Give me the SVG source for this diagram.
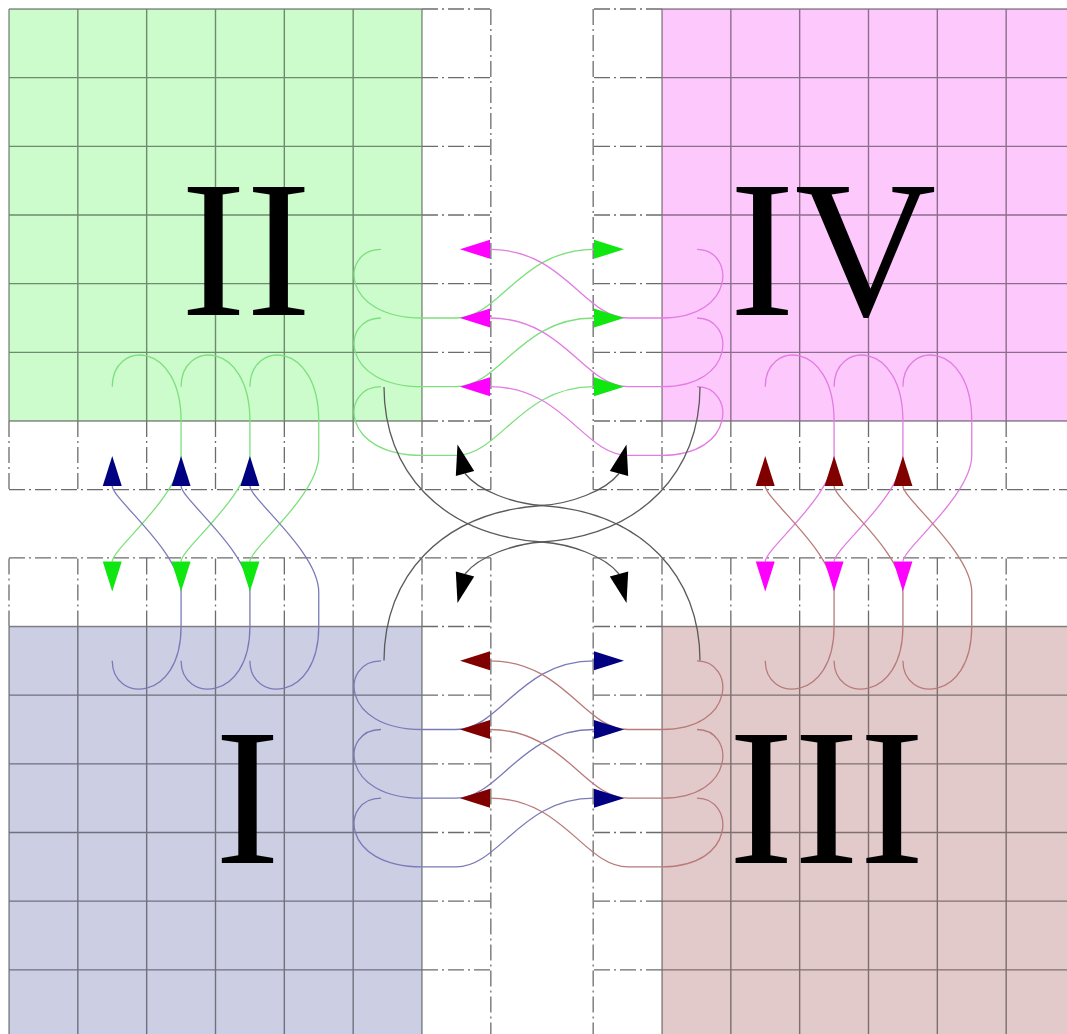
<svg xmlns="http://www.w3.org/2000/svg" width="1067" height="1034" viewBox="0 0 1067 1034">
<style>
.grid{fill:none;stroke:#000;stroke-opacity:.45;stroke-width:1.4}
.ghost{fill:none;stroke:#6c6c6c;stroke-width:1.3;stroke-dasharray:16 4 2 4}
.num{font-family:"Liberation Serif","Times New Roman",serif;font-size:196px;fill:#000;text-anchor:middle}
.c{fill:none;stroke-width:1.3}
.cg{stroke:#7ce07c}.cm{stroke:#e27ce2}.cn{stroke:#7a7ab8}.cr{stroke:#b87a7a}.ck{stroke:#5a5a5a}
</style>
<defs>
<g id="tmpl">
<path class="grid" d="M9,9V421M77.83,9V421M146.67,9V421M215.5,9V421M284.33,9V421M353.17,9V421M422,9V421M9,9H422M9,77.67H422M9,146.33H422M9,215H422M9,283.67H422M9,352.33H422M9,421H422"/>
<path class="ghost" d="M422,9H490.83M422,77.67H490.83M422,146.33H490.83M422,215H490.83M422,283.67H490.83M422,352.33H490.83M422,421H490.83M490.83,9V489.67M9,421V489.67M77.83,421V489.67M146.67,421V489.67M215.5,421V489.67M284.33,421V489.67M353.17,421V489.67M422,421V489.67M9,489.67H490.83"/>
</g>
<path id="ah" d="M0,-9.5L30,0L0,9.5Z"/>
</defs>
<rect width="1067" height="1034" fill="#fff"/>
<g id="quadrant-II">
<rect x="9" y="9" width="413" height="412" fill="#ccfbcc"/>
<use href="#tmpl"/>
<text class="num" x="246" y="315">II</text>
</g>
<g id="quadrant-IV">
<rect x="662" y="9" width="413" height="412" fill="#fdc9fd"/>
<use href="#tmpl" transform="matrix(-1 0 0 1 1084 0)"/>
<text class="num" x="833" y="315">IV</text>
</g>
<g id="quadrant-I">
<rect x="9" y="626.5" width="413" height="412" fill="#ccceE4"/>
<use href="#tmpl" transform="matrix(1 0 0 -1 0 1047.5)"/>
<text class="num" x="247.5" y="863">I</text>
</g>
<g id="quadrant-III">
<rect x="662" y="626.5" width="413" height="412" fill="#e3caca"/>
<use href="#tmpl" transform="matrix(-1 0 0 -1 1084 1047.5)"/>
<text class="num" x="826.5" y="863">III</text>
</g>
<g id="connectors">
<g class="c cg">
<path d="M381,249.33C340,249.33 340,318 422,318L456,318C500,318 520,249.33 594,249.33"/>
<path d="M381,318C340,318 340,386.67 422,386.67L456,386.67C500,386.67 520,318 594,318"/>
<path d="M381,386.67C340,386.67 340,455.33 422,455.33L456,455.33C500,455.33 520,386.67 594,386.67"/>
<path d="M112.25,386.67C112.25,340 181.08,340 181.08,421L181.08,455.33C181.08,495.5 112.25,548.5 112.25,561.5"/>
<path d="M181.08,386.67C181.08,340 249.92,340 249.92,421L249.92,455.33C249.92,495.5 181.08,548.5 181.08,561.5"/>
<path d="M249.92,386.67C249.92,340 318.75,340 318.75,421L318.75,455.33C318.75,495.5 249.92,548.5 249.92,561.5"/>
</g>
<g class="c cm">
<path d="M697,249.33C735,249.33 737,318 662,318L628,318C584,318 564,249.33 490,249.33"/>
<path d="M697,318C735,318 737,386.67 662,386.67L628,386.67C584,386.67 564,318 490,318"/>
<path d="M697,386.67C735,386.67 737,455.33 662,455.33L628,455.33C584,455.33 564,386.67 490,386.67"/>
<path d="M765.25,386.67C765.25,340 834.08,340 834.08,421L834.08,455.33C834.08,495.5 765.25,548.5 765.25,561.5"/>
<path d="M834.08,386.67C834.08,340 902.92,340 902.92,421L902.92,455.33C902.92,495.5 834.08,548.5 834.08,561.5"/>
<path d="M902.92,386.67C902.92,340 971.75,340 971.75,421L971.75,455.33C971.75,495.5 902.92,548.5 902.92,561.5"/>
</g>
<g class="c cn">
<path d="M381,660.83C340,660.83 340,729.5 422,729.5L456,729.5C500,729.5 520,660.83 594,660.83"/>
<path d="M381,729.5C340,729.5 340,798.17 422,798.17L456,798.17C500,798.17 520,729.5 594,729.5"/>
<path d="M381,798.17C340,798.17 340,866.83 422,866.83L456,866.83C500,866.83 520,798.17 594,798.17"/>
<path d="M112.25,660.83C112.25,703 181.08,703 181.08,626.5L181.08,592.17C181.08,552 112.25,499 112.25,486"/>
<path d="M181.08,660.83C181.08,703 249.92,703 249.92,626.5L249.92,592.17C249.92,552 181.08,499 181.08,486"/>
<path d="M249.92,660.83C249.92,703 318.75,703 318.75,626.5L318.75,592.17C318.75,552 249.92,499 249.92,486"/>
</g>
<g class="c cr">
<path d="M697,660.83C735,660.83 737,729.5 662,729.5L628,729.5C584,729.5 564,660.83 490,660.83"/>
<path d="M697,729.5C735,729.5 737,798.17 662,798.17L628,798.17C584,798.17 564,729.5 490,729.5"/>
<path d="M697,798.17C735,798.17 737,866.83 662,866.83L628,866.83C584,866.83 564,798.17 490,798.17"/>
<path d="M765.25,660.83C765.25,703 834.08,703 834.08,626.5L834.08,592.17C834.08,552 765.25,499 765.25,486"/>
<path d="M834.08,660.83C834.08,703 902.92,703 902.92,626.5L902.92,592.17C902.92,552 834.08,499 834.08,486"/>
<path d="M902.92,660.83C902.92,703 971.75,703 971.75,626.5L971.75,592.17C971.75,552 902.92,499 902.92,486"/>
</g>
<g class="c ck">
<path d="M384,387C384,470 440,535 542,542C570,544 605,556 619,574"/>
<path d="M700,387C700,470 644,535 542,542C514,544 479,556 465,574"/>
<path d="M384,660.5C384,577.5 440,512.5 542,505.5C570,503.5 605,491.5 619,473.5"/>
<path d="M700,660.5C700,577.5 644,512.5 542,505.5C514,503.5 479,491.5 465,473.5"/>
</g>
<g id="arrowheads">
<g fill="#10e610">
<use href="#ah" transform="translate(594,249.33)"/>
<use href="#ah" transform="translate(594,318)"/>
<use href="#ah" transform="translate(594,386.67)"/>
<use href="#ah" transform="translate(112.25,561.5) rotate(90)"/>
<use href="#ah" transform="translate(181.08,561.5) rotate(90)"/>
<use href="#ah" transform="translate(249.92,561.5) rotate(90)"/>
</g>
<g fill="#f0f">
<use href="#ah" transform="translate(490,249.33) rotate(180)"/>
<use href="#ah" transform="translate(490,318) rotate(180)"/>
<use href="#ah" transform="translate(490,386.67) rotate(180)"/>
<use href="#ah" transform="translate(765.25,561.5) rotate(90)"/>
<use href="#ah" transform="translate(834.08,561.5) rotate(90)"/>
<use href="#ah" transform="translate(902.92,561.5) rotate(90)"/>
</g>
<g fill="#000080">
<use href="#ah" transform="translate(594,660.83)"/>
<use href="#ah" transform="translate(594,729.5)"/>
<use href="#ah" transform="translate(594,798.17)"/>
<use href="#ah" transform="translate(112.25,486) rotate(-90)"/>
<use href="#ah" transform="translate(181.08,486) rotate(-90)"/>
<use href="#ah" transform="translate(249.92,486) rotate(-90)"/>
</g>
<g fill="#800000">
<use href="#ah" transform="translate(490,660.83) rotate(180)"/>
<use href="#ah" transform="translate(490,729.5) rotate(180)"/>
<use href="#ah" transform="translate(490,798.17) rotate(180)"/>
<use href="#ah" transform="translate(765.25,486) rotate(-90)"/>
<use href="#ah" transform="translate(834.08,486) rotate(-90)"/>
<use href="#ah" transform="translate(902.92,486) rotate(-90)"/>
</g>
<g fill="#000">
<use href="#ah" transform="translate(619,574) rotate(75.5)"/>
<use href="#ah" transform="translate(465,574) rotate(104.5)"/>
<use href="#ah" transform="translate(619,473.5) rotate(-75.5)"/>
<use href="#ah" transform="translate(465,473.5) rotate(-104.5)"/>
</g>
</g>
</g>
</svg>
